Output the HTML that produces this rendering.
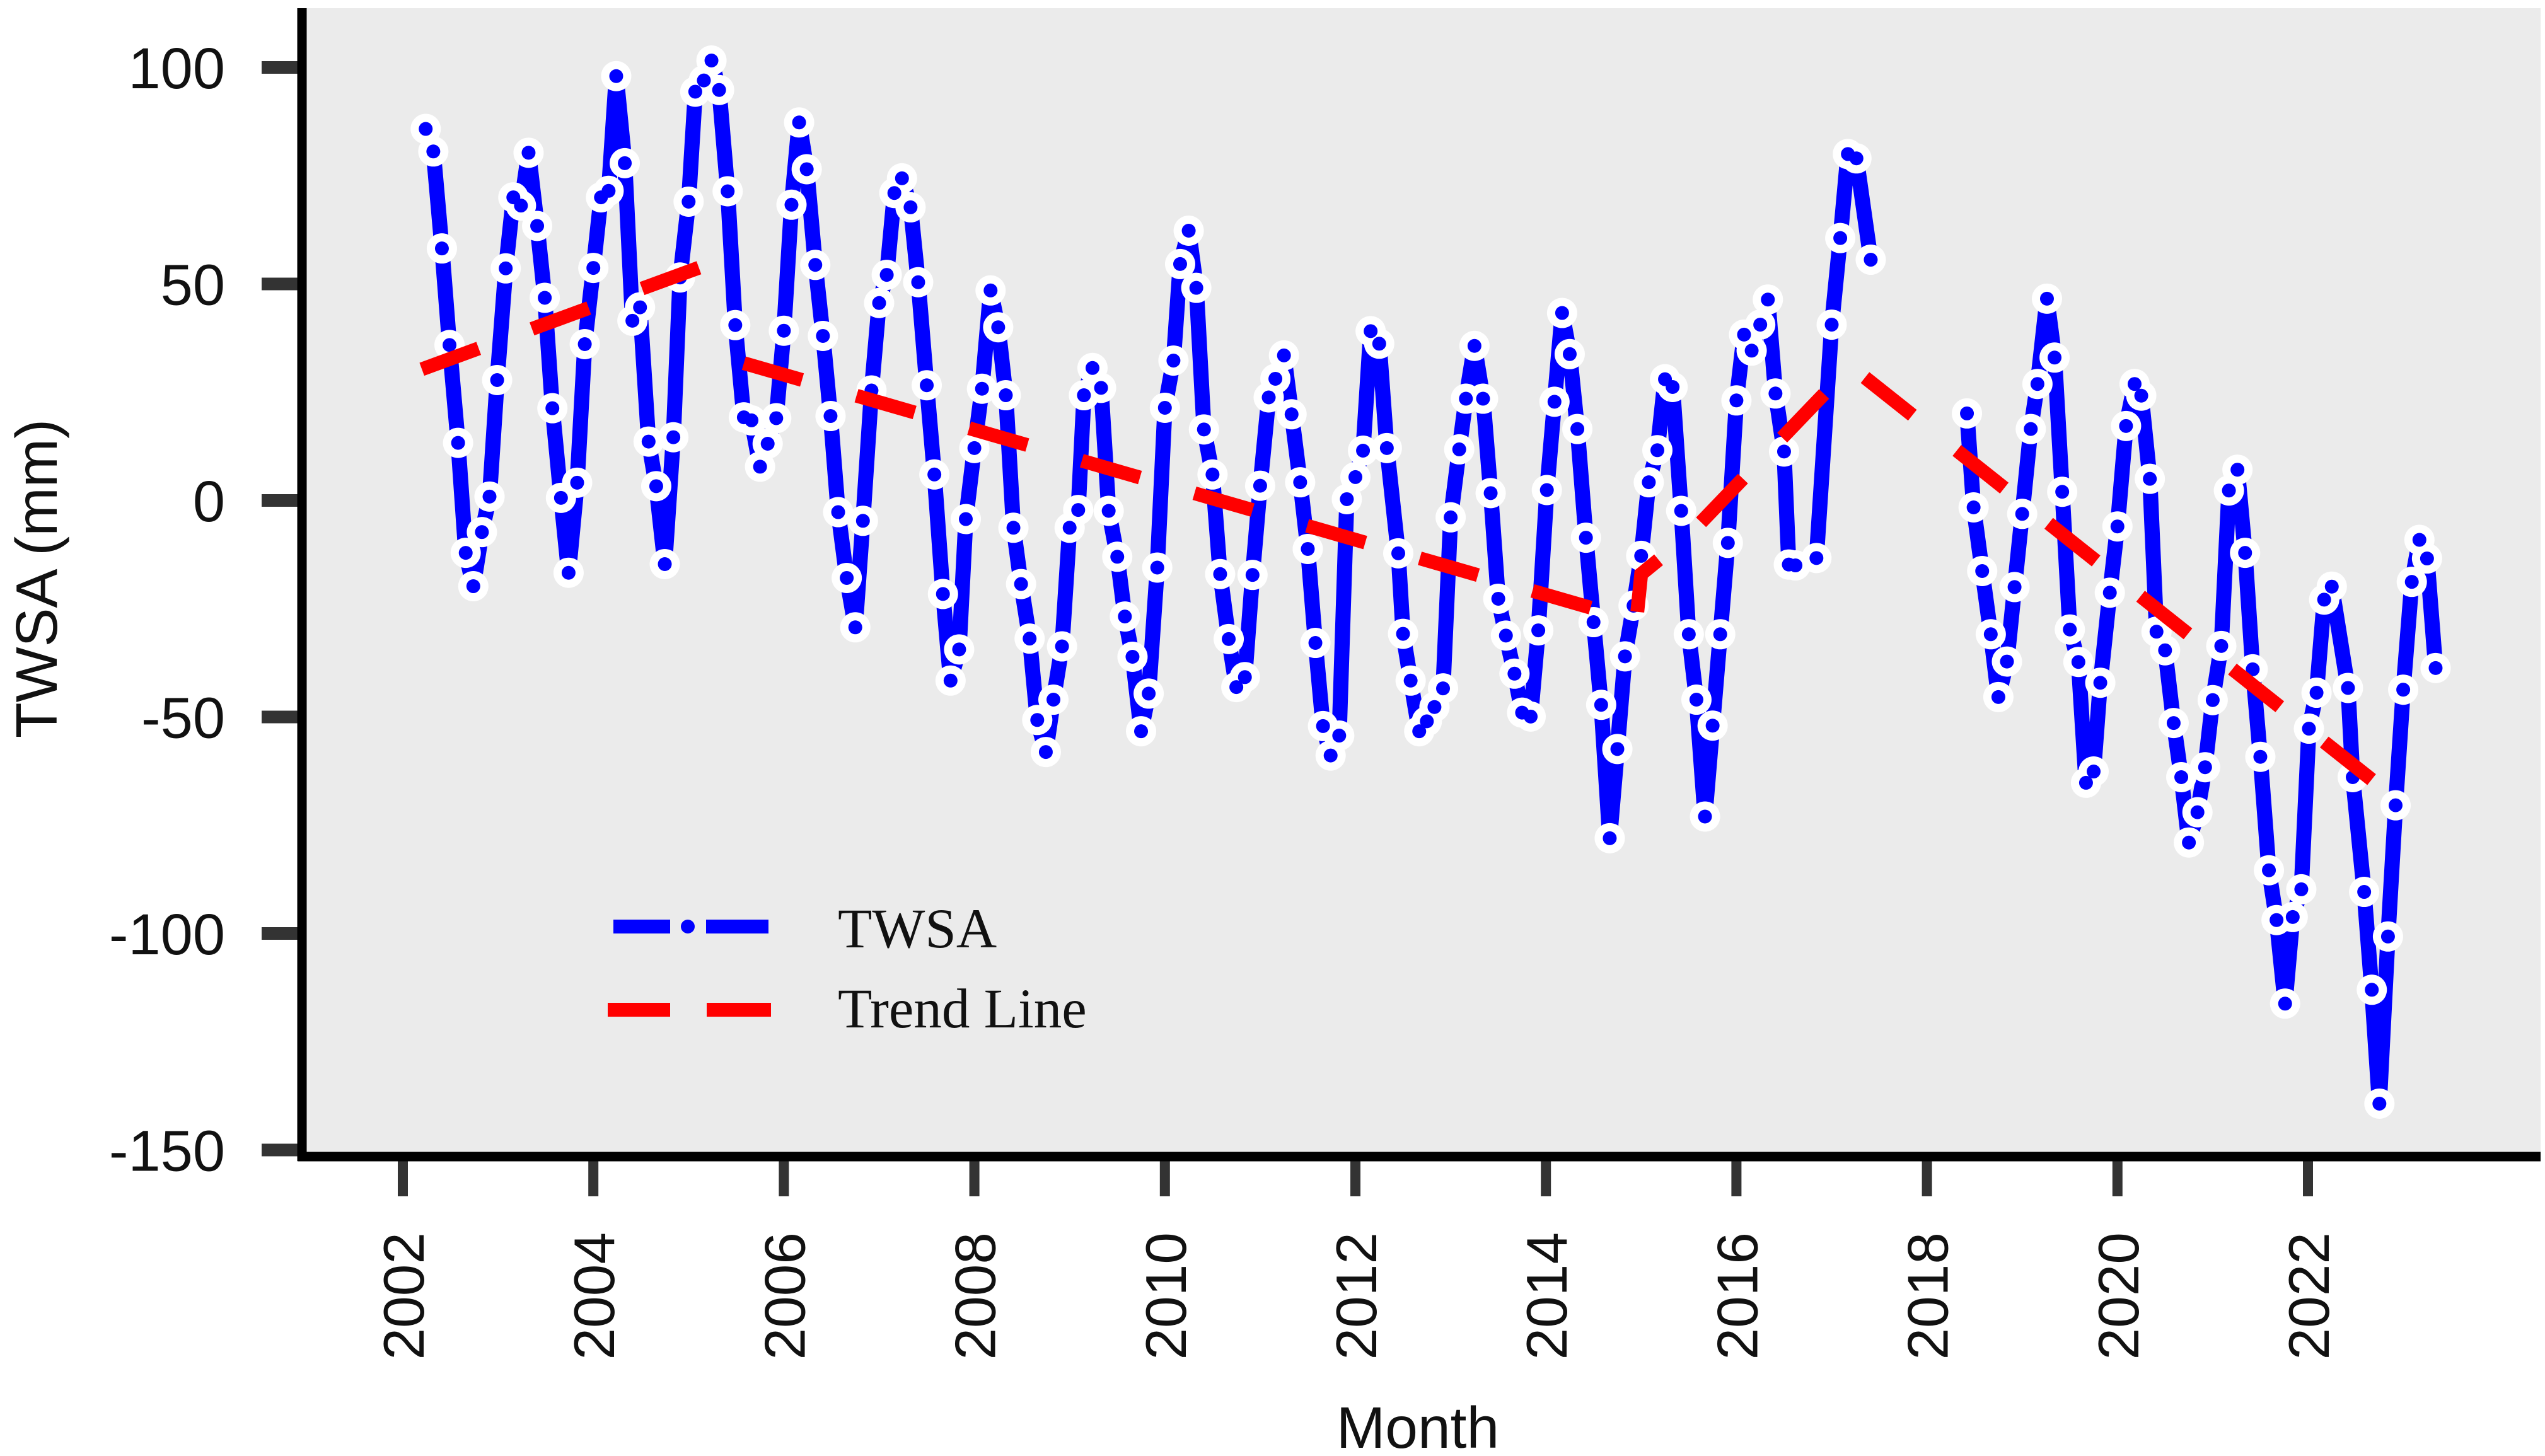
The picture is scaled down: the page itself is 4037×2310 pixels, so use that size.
<!DOCTYPE html>
<html><head><meta charset="utf-8"><style>
html,body{margin:0;padding:0;background:#fff;}
svg{display:block;}
</style></head><body>
<svg id="chart" width="4037" height="2310" viewBox="0 0 4037 2310" xmlns="http://www.w3.org/2000/svg">
<rect x="479" y="13" width="3551" height="1822" fill="#ebebeb"/>
<g id="yticks"></g>
<g id="xticks"></g>
<g id="series"></g>
<line x1="479" y1="13" x2="479" y2="1842" stroke="#000" stroke-width="15"/>
<line x1="472" y1="1835" x2="4030" y2="1835" stroke="#000" stroke-width="15"/>
<text x="0" y="0" transform="translate(90,918) rotate(-90)" text-anchor="middle" font-family="Liberation Sans, Arial, sans-serif" font-size="93" fill="#111">TWSA (mm)</text>
<text x="2249" y="2297" text-anchor="middle" font-family="Liberation Sans, Arial, sans-serif" font-size="93" fill="#111">Month</text>
<g>
  <g>
    <line x1="973" y1="1470" x2="1063" y2="1470" stroke="#0000ff" stroke-width="22"/>
    <circle cx="1091" cy="1470" r="11" fill="#0000ff"/>
    <line x1="1120" y1="1470" x2="1219" y2="1470" stroke="#0000ff" stroke-width="22"/>
    <text x="1329" y="1503" font-family="Liberation Serif, Times New Roman, serif" font-size="89" fill="#111">TWSA</text>
  </g>
  <g>
    <line x1="964" y1="1602" x2="1063" y2="1602" stroke="#ff0000" stroke-width="22"/>
    <line x1="1121" y1="1602" x2="1223" y2="1602" stroke="#ff0000" stroke-width="22"/>
    <text x="1329" y="1630" font-family="Liberation Serif, Times New Roman, serif" font-size="89" fill="#111">Trend Line</text>
  </g>
</g>
</svg>
<script>
const months = [2002.24,2002.32,2002.41,2002.49,2002.58,2002.66,2002.74,2002.83,2002.91,2002.99,2003.08,2003.16,2003.24,2003.32,2003.41,2003.49,2003.57,2003.66,2003.74,2003.83,2003.91,2004.00,2004.08,2004.16,2004.24,2004.33,2004.41,2004.49,2004.58,2004.66,2004.75,2004.84,2004.91,2005.00,2005.07,2005.16,2005.24,2005.32,2005.41,2005.49,2005.58,2005.66,2005.75,2005.83,2005.92,2006.00,2006.08,2006.16,2006.24,2006.33,2006.41,2006.49,2006.57,2006.66,2006.75,2006.83,2006.92,2007.00,2007.08,2007.16,2007.24,2007.33,2007.41,2007.50,2007.58,2007.67,2007.75,2007.84,2007.91,2008.00,2008.08,2008.17,2008.25,2008.33,2008.41,2008.49,2008.58,2008.66,2008.75,2008.83,2008.92,2009.00,2009.09,2009.15,2009.24,2009.33,2009.41,2009.50,2009.58,2009.66,2009.75,2009.83,2009.92,2010.00,2010.09,2010.16,2010.25,2010.33,2010.41,2010.50,2010.58,2010.67,2010.75,2010.84,2010.92,2011.00,2011.09,2011.16,2011.25,2011.33,2011.42,2011.50,2011.58,2011.66,2011.74,2011.83,2011.91,2012.00,2012.08,2012.16,2012.25,2012.33,2012.45,2012.50,2012.58,2012.67,2012.75,2012.83,2012.92,2013.00,2013.09,2013.16,2013.25,2013.34,2013.42,2013.50,2013.58,2013.67,2013.75,2013.84,2013.92,2014.01,2014.09,2014.17,2014.25,2014.33,2014.42,2014.50,2014.58,2014.67,2014.75,2014.83,2014.92,2015.00,2015.08,2015.17,2015.25,2015.33,2015.42,2015.50,2015.58,2015.67,2015.75,2015.83,2015.91,2016.00,2016.08,2016.16,2016.25,2016.33,2016.41,2016.50,2016.55,2016.62,2016.84,2017.00,2017.09,2017.17,2017.26,2017.41,2017.90,2018.42,2018.49,2018.58,2018.67,2018.75,2018.84,2018.92,2019.00,2019.09,2019.16,2019.26,2019.34,2019.42,2019.50,2019.59,2019.67,2019.75,2019.82,2019.92,2020.00,2020.09,2020.18,2020.25,2020.34,2020.41,2020.50,2020.59,2020.67,2020.75,2020.84,2020.92,2021.00,2021.09,2021.17,2021.26,2021.34,2021.42,2021.50,2021.59,2021.67,2021.76,2021.84,2021.93,2022.01,2022.09,2022.17,2022.25,2022.42,2022.47,2022.59,2022.67,2022.75,2022.84,2022.92,2023.00,2023.09,2023.17,2023.25,2023.34];
const twsa = [85.8,80.6,58.2,35.9,13.3,-12.1,-19.8,-7.3,0.9,27.8,53.6,70,68.1,80.3,63.4,46.8,21.3,0.6,-16.7,4.1,36.1,53.7,70,71.5,98.0,77.9,41.5,44.6,13.6,3.3,-14.7,14.6,51.5,69.0,94.4,97,101.6,94.8,71.4,40.5,19.2,18.5,7.8,13.1,19.0,39.2,68.3,87.3,76.5,54.4,38.0,19.5,-2.7,-17.9,-29.3,-4.7,25.4,45.6,52.1,71,74.4,67.7,50.4,26.6,6.0,-21.6,-41.6,-34.4,-4.3,12.1,25.8,48.5,40.0,24.3,-6.3,-19.3,-31.9,-50.7,-58.1,-46.0,-33.7,-6.3,-2.2,24.3,30.6,26.0,-2.4,-13.0,-26.8,-36.1,-53.3,-44.6,-15.5,21.4,32.3,54.6,62.3,49.1,16.4,6.0,-17.0,-32,-43.1,-40.8,-17.2,3.4,23.8,28.1,33.5,19.9,4.2,-11.2,-32.9,-52.1,-58.9,-54.3,0.3,5.4,11.5,39.1,36.2,12.1,-12.2,-30.8,-41.6,-53.3,-51,-47.7,-43.4,-3.9,11.8,23.5,35.7,23.5,1.7,-22.7,-31.2,-40.0,-49,-49.9,-30.0,2.4,22.8,43.3,33.8,16.5,-8.6,-28.1,-47.2,-78.0,-57.4,-36.0,-24.3,-12.8,4.2,11.6,28,26.2,-2.4,-30.9,-46.0,-73.0,-52.0,-30.9,-9.8,23.1,38.3,34.6,40.6,46.4,24.7,11.3,-14.8,-15,-13.3,40.6,60.6,80,79.0,55.6,null,20.1,-1.6,-16.3,-30.9,-45.4,-37.2,-20,-3.1,16.5,26.9,46.6,33.0,2.0,-29.8,-37.3,-65.2,-62.6,-42.1,-21.3,-6.0,17.2,26.9,24.2,5.0,-30.3,-34.6,-51.4,-63.9,-79.0,-72.0,-61.6,-46.1,-33.6,2.3,7.1,-12.1,-39.0,-59.2,-85.4,-96.9,-116.2,-96.2,-89.8,-52.7,-44.4,-22.9,-19.9,-43.3,-63.9,-90.4,-113.0,-139.3,-100.7,-70.4,-43.7,-18.8,-9.1,-13.4,-38.7];
const trendT = [2002.2,2005.45,null,2005.58,2014.95,2015.0,2015.5,2017.2,2023.1];
const trendV = [30.3,56.5,null,31.7,-27.8,-17,-8,31,-72];
const yTickValues = [100,50,0,-50,-100,-150];
const yTickLabels = ["100","50","0","-50","-100","-150"];
const xTickYears = [2002,2004,2006,2008,2010,2012,2014,2016,2018,2020,2022];

const NS = "http://www.w3.org/2000/svg";
function xScale(t){ return 639 + (t - 2002) * 151.1; }
function yScale(v){ return 794 - v * 6.87; }

const yg = document.getElementById('yticks');
yTickValues.forEach((v,i)=>{
  const ln = document.createElementNS(NS,'line');
  
  
  ln.setAttribute('x1',415); ln.setAttribute('x2',479);
  ln.setAttribute('y1',yScale(v)); ln.setAttribute('y2',yScale(v));
  ln.setAttribute('stroke','#333'); ln.setAttribute('stroke-width',20);
  yg.appendChild(ln);
  const tx = document.createElementNS(NS,'text');
  
  
  tx.setAttribute('x',357); tx.setAttribute('y',yScale(v)+33);
  tx.setAttribute('text-anchor','end');
  tx.setAttribute('font-family','Liberation Sans, Arial, sans-serif');
  tx.setAttribute('font-size','92'); tx.setAttribute('fill','#111');
  tx.textContent = yTickLabels[i];
  yg.appendChild(tx);
});

const xg = document.getElementById('xticks');
xTickYears.forEach(yr=>{
  const x = xScale(yr);
  const ln = document.createElementNS(NS,'line');
  
  
  ln.setAttribute('x1',x); ln.setAttribute('x2',x);
  ln.setAttribute('y1',1835); ln.setAttribute('y2',1898);
  ln.setAttribute('stroke','#333'); ln.setAttribute('stroke-width',16);
  xg.appendChild(ln);
  const tx = document.createElementNS(NS,'text');
  
  
  tx.setAttribute('transform','translate('+(x+33)+',1955) rotate(-90)');
  tx.setAttribute('text-anchor','end');
  tx.setAttribute('font-family','Liberation Sans, Arial, sans-serif');
  tx.setAttribute('font-size','91'); tx.setAttribute('fill','#111');
  tx.textContent = String(yr);
  xg.appendChild(tx);
});

const sg = document.getElementById('series');
function buildPath(ts, vs){
  let d = '', pen = false;
  for (let i=0;i<ts.length;i++){
    if (vs[i] === null || ts[i] === null){ pen = false; continue; }
    d += (pen ? 'L' : 'M') + xScale(ts[i]).toFixed(1) + ' ' + yScale(vs[i]).toFixed(1) + ' ';
    pen = true;
  }
  return d;
}
const line = document.createElementNS(NS,'path');


line.setAttribute('d', buildPath(months, twsa));
line.setAttribute('fill','none'); line.setAttribute('stroke','#0000ff');
line.setAttribute('stroke-width',24); line.setAttribute('stroke-linejoin','round');
sg.appendChild(line);

const mg = document.createElementNS(NS,'g');


sg.appendChild(mg);
for (let i=0;i<months.length;i++){
  if (twsa[i] === null) continue;
  const c = document.createElementNS(NS,'circle');
  
  
  c.setAttribute('cx', xScale(months[i])); c.setAttribute('cy', yScale(twsa[i]));
  c.setAttribute('r', 24); c.setAttribute('fill','#ffffff');
  mg.appendChild(c);
}
for (let i=0;i<months.length;i++){
  if (twsa[i] === null) continue;
  const c = document.createElementNS(NS,'circle');
  
  
  c.setAttribute('cx', xScale(months[i])); c.setAttribute('cy', yScale(twsa[i]));
  c.setAttribute('r', 11); c.setAttribute('fill','#0000ff');
  mg.appendChild(c);
}

const tr = document.createElementNS(NS,'path');


tr.setAttribute('d', buildPath(trendT, trendV));
tr.setAttribute('fill','none'); tr.setAttribute('stroke','#ff0000');
tr.setAttribute('stroke-width',22); tr.setAttribute('stroke-dasharray','96 90');
sg.appendChild(tr);
</script>
</body></html>
